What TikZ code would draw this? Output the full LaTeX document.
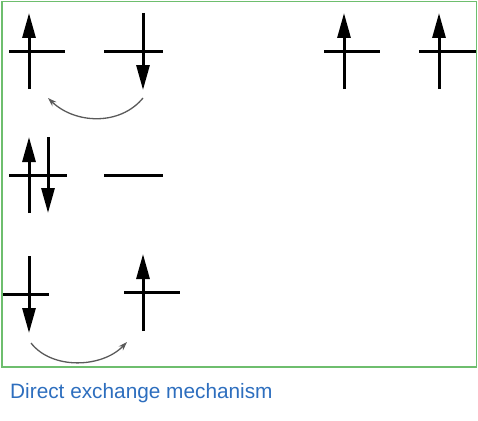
\documentclass[tikz,border=0pt]{standalone}
\usepackage{fontspec}
\setmainfont{Liberation Sans}
\usetikzlibrary{arrows.meta}
\definecolor{framegreen}{RGB}{110,190,110}
\definecolor{capblue}{RGB}{45,110,190}
\definecolor{curvegray}{RGB}{90,90,90}
\begin{document}
\begin{tikzpicture}[x=1pt,y=-1pt,
  level/.style={line width=3pt},
  spin/.style={line width=3pt,-{Triangle[length=25pt,width=13pt]}},
  hop/.style={line width=1.3pt,draw=curvegray,-{Stealth[length=9pt,width=6pt]}}]
\useasboundingbox (0,0) rectangle (478,420);
\draw[framegreen,line width=1.8pt] (2,1.5) rectangle (476.5,367);
% row 1
\draw[level] (9,51) -- (65,51);
\draw[spin] (29,89) -- (29,13);
\draw[level] (104,51) -- (163,51);
\draw[spin] (143,13) -- (143,90);
\draw[level] (324,51) -- (380,51);
\draw[spin] (344,89) -- (344,13);
\draw[level] (419,51) -- (476,51);
\draw[spin] (439,89) -- (439,13);
\coordinate (h1s) at (143,98);
\coordinate (h1e) at (48,98);
\draw[hop] (h1s) .. controls (120,126) and (75,124) .. (h1e);
% row 2
\draw[level] (9,175) -- (67,175);
\draw[spin] (29,213) -- (29,137);
\draw[spin] (48,137) -- (48,213);
\draw[level] (104,175) -- (163,175);
% row 3
\draw[level] (3,294) -- (49,294);
\draw[spin] (29,256) -- (29,333);
\draw[level] (124,292) -- (180,292);
\draw[spin] (143,331) -- (143,254);
\coordinate (h2s) at (31,343);
\coordinate (h2e) at (127,342);
\draw[hop] (h2s) .. controls (52,370) and (102,368) .. (h2e);
% caption
\node[anchor=base west,inner sep=0pt,text=capblue,font=\fontsize{20.8}{25}\selectfont] (cap) at (10,398) {Direct exchange mechanism};
\end{tikzpicture}
\end{document}
